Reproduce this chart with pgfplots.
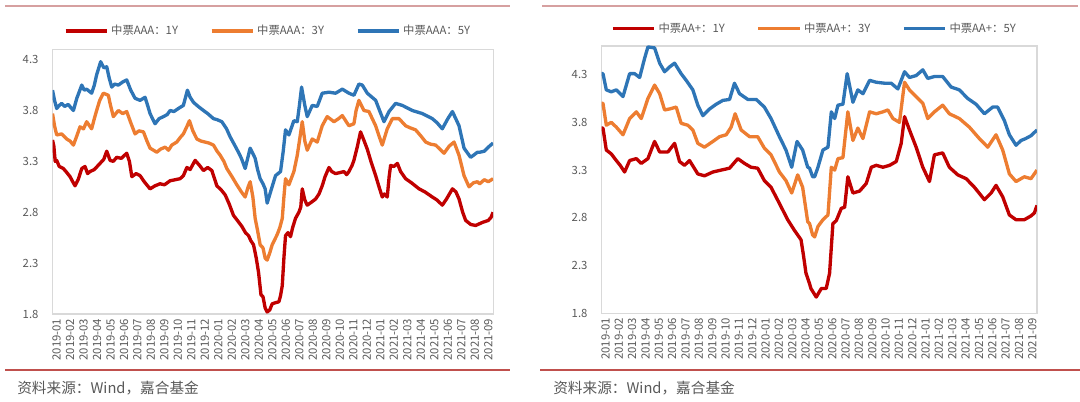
\documentclass[border=0pt]{standalone}
\usepackage{fontspec}
\setmainfont{Noto Sans CJK SC}
\usepackage{pgfplots}
\pgfplotsset{compat=1.18}
\definecolor{cR}{RGB}{192,0,0}
\definecolor{cO}{RGB}{237,125,49}
\definecolor{cB}{RGB}{46,117,182}
\definecolor{txt}{RGB}{89,89,89}
\definecolor{frm}{RGB}{217,217,217}
\definecolor{deco}{RGB}{192,80,77}
\definecolor{decolt}{RGB}{214,160,160}
\pgfplotsset{
  legend image code/.code={\draw[#1, line width=2.4pt] (0pt,0pt) -- (31pt,0pt);},
  panel/.style={
    scale only axis,
    axis line style={frm, line width=0.8pt},
    xmin=0, xmax=32.65, ymin=1.8,
    xtick={0,...,32},
    xticklabels={2019-01,2019-02,2019-03,2019-04,2019-05,2019-06,2019-07,2019-08,2019-09,2019-10,2019-11,2019-12,2020-01,2020-02,2020-03,2020-04,2020-05,2020-06,2020-07,2020-08,2020-09,2020-10,2020-11,2020-12,2021-01,2021-02,2021-03,2021-04,2021-05,2021-06,2021-07,2021-08,2021-09},
    ytick={1.8,2.3,2.8,3.3,3.8,4.3},
    yticklabels={1.8,2.3,2.8,3.3,3.8,4.3},
    /pgf/number format/assume math mode=true,
    tick style={draw=none},
    x tick label style={rotate=90, anchor=east, yshift=-3pt, font=\fontsize{8.5}{9}\selectfont, text=txt},
    y tick label style={xshift=-7pt, font=\fontsize{8.5}{9}\selectfont, text=txt},
    legend columns=3,
    legend style={draw=none, fill=none, font=\fontsize{8.5}{10}\selectfont, text=txt,
      /tikz/every even column/.append style={column sep=22pt}},
    every axis plot/.append style={line width=2.5pt, line join=round, no markers},
  }
}
\begin{document}
\begin{tikzpicture}[x=0.75pt,y=0.75pt]
\path[use as bounding box] (0,0) rectangle (1080,401);
% decorative lines
\draw[decolt, line width=0.8pt] (5,395) -- (510,395);
\draw[decolt, line width=0.8pt] (542,395) -- (1078,395);
\draw[deco, line width=1.2pt] (5,31) -- (510,31);
\draw[deco, line width=1.2pt] (540,31) -- (1080,31);
\node[anchor=west, text=txt, font=\fontsize{11}{12}\selectfont, inner sep=0pt] at (17,13) {资料来源：Wind，嘉合基金};
\node[anchor=west, text=txt, font=\fontsize{11}{12}\selectfont, inner sep=0pt] at (553,13) {资料来源：Wind，嘉合基金};

\begin{axis}[panel, at={(39.375pt,65.25pt)}, anchor=south west,
  width=330.4pt, height=198.4pt, ymax=4.4,
  legend style={at={(0.49,1.07)}, anchor=center}]
\addplot[cR] coordinates {(0,3.51)(0.1,3.45)(0.2,3.30)(0.31,3.31)(0.5,3.25)(0.8,3.23)(1.0,3.20)(1.3,3.15)(1.5,3.10)(1.67,3.06)(1.9,3.12)(2.17,3.23)(2.41,3.25)(2.6,3.18)(2.78,3.20)(3.1,3.22)(3.52,3.28)(3.8,3.32)(4.02,3.40)(4.27,3.31)(4.5,3.30)(4.76,3.34)(5.1,3.33)(5.5,3.38)(5.7,3.30)(5.88,3.15)(6.2,3.18)(6.49,3.16)(6.8,3.10)(7.23,3.03)(7.6,3.06)(7.97,3.08)(8.3,3.07)(8.72,3.11)(9.1,3.12)(9.46,3.13)(9.7,3.16)(9.96,3.24)(10.2,3.22)(10.57,3.31)(10.9,3.26)(11.19,3.21)(11.5,3.24)(11.81,3.21)(12.18,3.06)(12.5,3.02)(12.8,2.97)(13.1,2.88)(13.41,2.77)(13.7,2.72)(14.04,2.66)(14.3,2.60)(14.53,2.57)(14.7,2.52)(14.9,2.48)(15.1,2.35)(15.27,2.21)(15.45,1.99)(15.6,1.97)(15.76,1.86)(15.91,1.82)(16.1,1.84)(16.28,1.90)(16.5,1.91)(16.78,1.92)(16.9,1.98)(17.03,2.08)(17.15,2.35)(17.27,2.57)(17.45,2.60)(17.64,2.56)(17.8,2.65)(18.01,2.74)(18.26,2.80)(18.4,2.85)(18.51,3.03)(18.7,2.92)(18.88,2.87)(19.2,2.90)(19.5,2.93)(19.75,2.98)(19.99,3.06)(20.2,3.15)(20.49,3.24)(20.7,3.20)(20.98,3.18)(21.3,3.19)(21.6,3.20)(21.8,3.17)(21.97,3.20)(22.2,3.26)(22.34,3.31)(22.6,3.45)(22.83,3.59)(23.1,3.50)(23.33,3.42)(23.6,3.30)(23.95,3.16)(24.2,3.05)(24.44,2.95)(24.6,2.98)(24.81,2.95)(24.95,3.15)(25.06,3.26)(25.3,3.25)(25.56,3.28)(25.8,3.20)(26.17,3.13)(26.6,3.09)(27.17,3.03)(27.6,3.00)(28.15,2.95)(28.5,2.92)(28.89,2.87)(29.2,2.93)(29.64,3.03)(29.9,3.00)(30.13,2.93)(30.4,2.80)(30.62,2.72)(31.0,2.68)(31.36,2.67)(31.86,2.70)(32.3,2.72)(32.5,2.75)(32.65,2.80)};
\addlegendentry{中票AAA：1Y}
\addplot[cO] coordinates {(0,3.77)(0.15,3.65)(0.31,3.56)(0.68,3.57)(1.05,3.52)(1.3,3.50)(1.55,3.46)(1.8,3.55)(2.04,3.64)(2.3,3.62)(2.53,3.69)(2.9,3.62)(3.1,3.72)(3.27,3.80)(3.5,3.90)(3.77,3.97)(4.14,3.95)(4.3,3.85)(4.51,3.74)(4.88,3.80)(5.2,3.77)(5.5,3.79)(5.8,3.68)(6.12,3.57)(6.4,3.60)(6.74,3.59)(7.0,3.50)(7.23,3.43)(7.73,3.39)(8.0,3.42)(8.35,3.44)(8.6,3.41)(8.84,3.46)(9.21,3.49)(9.5,3.54)(9.7,3.57)(9.95,3.64)(10.15,3.70)(10.4,3.60)(10.7,3.52)(11.0,3.50)(11.3,3.49)(11.6,3.48)(11.93,3.46)(12.2,3.40)(12.43,3.36)(12.7,3.30)(12.92,3.23)(13.3,3.15)(13.66,3.07)(14.0,3.00)(14.28,2.95)(14.5,3.05)(14.65,3.10)(14.85,2.95)(15.02,2.74)(15.2,2.62)(15.39,2.48)(15.6,2.45)(15.76,2.35)(15.91,2.33)(16.1,2.40)(16.28,2.48)(16.65,2.58)(16.85,2.65)(17.03,2.74)(17.15,2.95)(17.27,3.13)(17.52,3.07)(17.89,3.20)(18.14,3.36)(18.3,3.50)(18.51,3.69)(18.7,3.50)(18.88,3.41)(19.25,3.52)(19.62,3.49)(19.99,3.65)(20.36,3.74)(20.86,3.69)(21.2,3.72)(21.48,3.75)(21.97,3.65)(22.34,3.67)(22.5,3.80)(22.71,3.90)(23.08,3.80)(23.45,3.79)(23.95,3.65)(24.2,3.55)(24.44,3.46)(24.81,3.62)(25.19,3.72)(25.68,3.72)(26.17,3.65)(26.5,3.63)(26.91,3.61)(27.3,3.55)(27.66,3.49)(28.0,3.47)(28.4,3.46)(29.02,3.38)(29.4,3.45)(29.76,3.49)(30.13,3.36)(30.5,3.16)(30.87,3.05)(31.2,3.09)(31.49,3.10)(31.66,3.08)(32.0,3.12)(32.3,3.10)(32.65,3.13)};
\addlegendentry{中票AAA：3Y}
\addplot[cB] coordinates {(0,4.00)(0.15,3.90)(0.31,3.82)(0.5,3.85)(0.68,3.87)(0.9,3.84)(1.17,3.86)(1.35,3.83)(1.55,3.80)(1.8,3.92)(2.17,4.05)(2.35,4.00)(2.53,4.01)(2.9,3.97)(3.1,4.05)(3.27,4.15)(3.57,4.28)(3.8,4.22)(4.02,4.23)(4.2,4.12)(4.39,4.03)(4.6,4.06)(4.88,4.05)(5.2,4.08)(5.5,4.10)(5.8,4.00)(6.12,3.92)(6.49,3.90)(6.86,3.93)(7.05,3.85)(7.23,3.77)(7.6,3.67)(7.9,3.72)(8.22,3.74)(8.5,3.76)(8.72,3.80)(9.0,3.79)(9.33,3.82)(9.7,3.85)(10.0,4.00)(10.2,3.93)(10.45,3.88)(10.8,3.84)(11.19,3.80)(11.5,3.77)(11.93,3.72)(12.2,3.71)(12.55,3.69)(12.9,3.62)(13.17,3.54)(13.5,3.46)(13.78,3.39)(14.0,3.33)(14.28,3.23)(14.5,3.35)(14.65,3.43)(15.02,3.33)(15.2,3.22)(15.39,3.13)(15.6,3.08)(15.76,3.03)(15.91,2.89)(16.16,3.00)(16.53,3.16)(16.9,3.20)(17.1,3.40)(17.27,3.61)(17.52,3.56)(17.89,3.70)(18.14,3.69)(18.3,3.85)(18.46,4.03)(18.7,3.85)(18.88,3.74)(19.25,3.85)(19.62,3.84)(19.99,3.97)(20.49,3.98)(20.98,3.97)(21.48,4.01)(21.97,3.97)(22.34,3.95)(22.71,4.06)(22.96,4.05)(23.33,3.97)(23.95,3.90)(24.3,3.78)(24.57,3.69)(24.94,3.79)(25.43,3.87)(25.93,3.85)(26.67,3.80)(27.41,3.77)(28.15,3.72)(28.5,3.68)(28.89,3.62)(29.3,3.72)(29.64,3.79)(30.13,3.65)(30.5,3.43)(30.99,3.34)(31.2,3.36)(31.49,3.39)(31.66,3.39)(32.0,3.40)(32.3,3.44)(32.65,3.48)};
\addlegendentry{中票AAA：5Y}
\end{axis}

\begin{axis}[panel, at={(451.125pt,65.775pt)}, anchor=south west,
  width=326.6pt, height=200.5pt, ymax=4.6,
  legend style={at={(0.49,1.064)}, anchor=center}]
\addplot[cR] coordinates {(0,3.74)(0.11,3.74)(0.36,3.51)(0.73,3.47)(1.11,3.40)(1.4,3.35)(1.73,3.28)(2.11,3.40)(2.61,3.42)(2.98,3.37)(3.48,3.42)(3.7,3.50)(3.98,3.60)(4.36,3.49)(4.98,3.49)(5.48,3.58)(5.85,3.39)(6.22,3.35)(6.6,3.40)(7.22,3.26)(7.72,3.24)(8.35,3.28)(8.97,3.30)(9.6,3.32)(10.22,3.42)(10.72,3.37)(11.21,3.33)(11.71,3.32)(12.21,3.19)(12.71,3.12)(13.34,2.95)(13.96,2.78)(14.46,2.67)(14.96,2.57)(15.15,2.40)(15.33,2.22)(15.6,2.11)(15.7,2.06)(16.1,1.97)(16.48,2.06)(16.85,2.06)(17.1,2.22)(17.35,2.74)(17.6,2.77)(17.98,2.90)(18.23,2.91)(18.47,3.23)(18.85,3.06)(19.35,3.08)(19.85,3.16)(20.23,3.33)(20.6,3.35)(21.1,3.33)(21.6,3.35)(22.1,3.39)(22.47,3.58)(22.72,3.86)(23.09,3.72)(23.59,3.54)(24.09,3.33)(24.59,3.18)(24.96,3.46)(25.58,3.48)(26.08,3.33)(26.71,3.25)(27.34,3.21)(27.96,3.12)(28.71,2.99)(29.21,3.06)(29.58,3.14)(30.08,3.02)(30.58,2.83)(31.08,2.78)(31.7,2.78)(32.2,2.82)(32.45,2.85)(32.65,2.93)};
\addlegendentry{中票AA+：1Y}
\addplot[cO] coordinates {(0,4.00)(0.11,4.00)(0.36,3.77)(0.73,3.80)(1.11,3.75)(1.61,3.67)(2.11,3.84)(2.61,3.91)(2.98,3.84)(3.48,4.05)(3.98,4.19)(4.36,4.10)(4.73,3.93)(5.1,3.94)(5.6,3.96)(5.97,3.79)(6.47,3.77)(6.85,3.72)(7.22,3.58)(7.72,3.54)(8.35,3.60)(8.85,3.65)(9.35,3.67)(9.72,3.75)(10.02,3.89)(10.47,3.72)(11.1,3.65)(11.71,3.65)(12.21,3.53)(12.71,3.46)(13.34,3.28)(13.83,3.19)(14.26,3.06)(14.71,3.25)(15.08,3.12)(15.46,2.76)(15.6,2.74)(15.83,2.62)(15.98,2.60)(16.23,2.71)(16.6,2.78)(16.98,2.83)(17.23,3.33)(17.48,3.30)(17.73,3.42)(18.1,3.43)(18.47,3.91)(18.85,3.61)(19.22,3.74)(19.6,3.63)(20.1,3.91)(20.6,3.89)(21.1,3.91)(21.47,3.93)(21.85,3.84)(22.34,3.80)(22.72,4.22)(23.09,4.14)(23.59,4.07)(24.09,4.00)(24.46,3.84)(24.96,3.91)(25.58,3.98)(26.08,3.89)(26.83,3.84)(27.58,3.75)(28.33,3.63)(28.96,3.54)(29.58,3.67)(30.08,3.51)(30.58,3.26)(31.08,3.18)(31.7,3.23)(32.2,3.21)(32.65,3.30)};
\addlegendentry{中票AA+：3Y}
\addplot[cB] coordinates {(0,4.31)(0.11,4.31)(0.36,4.14)(0.73,4.12)(1.11,4.14)(1.61,4.07)(2.11,4.31)(2.48,4.31)(2.86,4.27)(3.23,4.47)(3.48,4.59)(3.98,4.58)(4.36,4.42)(4.73,4.33)(5.1,4.38)(5.48,4.42)(5.97,4.31)(6.35,4.24)(6.85,4.14)(7.22,3.98)(7.6,3.87)(8.1,3.94)(8.6,3.99)(9.1,4.03)(9.6,4.04)(9.97,4.21)(10.35,4.10)(10.97,4.04)(11.6,4.04)(12.21,3.96)(12.71,3.84)(13.34,3.65)(13.83,3.51)(14.26,3.33)(14.66,3.60)(15.08,3.51)(15.46,3.33)(15.6,3.32)(15.83,3.23)(15.98,3.23)(16.23,3.33)(16.6,3.51)(16.98,3.54)(17.23,3.91)(17.48,3.84)(17.73,3.98)(18.1,3.99)(18.42,4.31)(18.85,4.01)(19.22,4.14)(19.6,4.10)(20.1,4.24)(20.6,4.22)(21.22,4.21)(21.72,4.21)(22.22,4.15)(22.72,4.33)(23.09,4.27)(23.59,4.29)(24.09,4.35)(24.46,4.26)(24.96,4.28)(25.58,4.28)(26.21,4.17)(26.83,4.14)(27.46,4.05)(28.08,3.99)(28.71,3.89)(29.33,3.96)(29.7,3.96)(30.2,3.82)(30.58,3.67)(31.08,3.56)(31.45,3.61)(31.8,3.63)(32.2,3.66)(32.65,3.72)};
\addlegendentry{中票AA+：5Y}
\end{axis}
\end{tikzpicture}
\end{document}
